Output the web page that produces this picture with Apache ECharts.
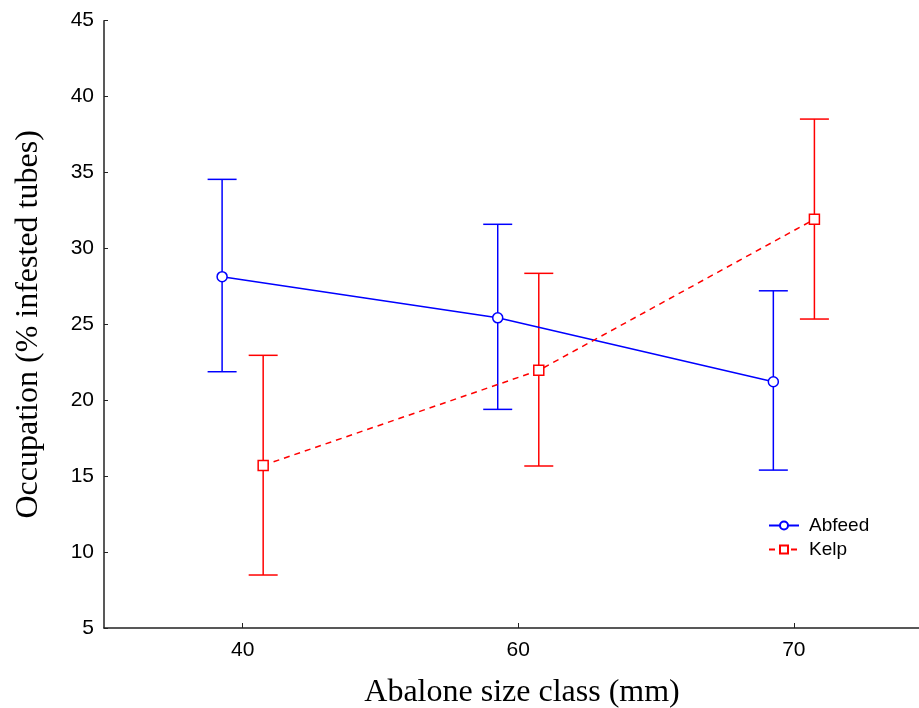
<!DOCTYPE html>
<html>
<head>
<meta charset="utf-8">
<script src="https://cdn.jsdelivr.net/npm/echarts@6/dist/echarts.min.js"></script>
<style>
  html, body { margin: 0; padding: 0; background: #fff; }
  #chart { width: 919px; height: 708px; }
</style>
</head>
<body>
<div id="chart"></div>
<script>
// Size classes (mm) on the x axis
const categories = ['40', '60', '70'];

// Abfeed diet: mean occupation with lower / upper error limits
const abfeedMean = [28.14, 25.43, 21.22];
const abfeedLow  = [21.88, 19.40, 15.40];
const abfeedHigh = [34.55, 31.59, 27.21];

// Kelp diet: mean occupation with lower / upper error limits
const kelpMean = [15.71, 21.97, 31.92];
const kelpLow  = [8.49, 15.67, 25.35];
const kelpHigh = [22.96, 28.36, 38.52];

// Y axis ticks
const yMin = 5, yMax = 45, yStep = 5;

// Horizontal nudge so the two groups sit either side of each class
const nudge = 0.0745;
const catIdx = categories.map((_, i) => i);

function pointData(means, shift) {
  return means.map((m, i) => [i + shift, m]);
}
function barData(lows, highs, shift) {
  return lows.map((lo, i) => [i + shift, lo, highs[i]]);
}

function errorBars(color) {
  return function (params, api) {
    const x = api.value(0);
    const lo = api.coord([x, api.value(1)]);
    const hi = api.coord([x, api.value(2)]);
    const half = 14.5;
    const style = { stroke: color, lineWidth: 1.5 };
    return {
      type: 'group',
      children: [
        { type: 'line', shape: { x1: lo[0], y1: lo[1], x2: hi[0], y2: hi[1] }, style: style },
        { type: 'line', shape: { x1: hi[0] - half, y1: hi[1], x2: hi[0] + half, y2: hi[1] }, style: style },
        { type: 'line', shape: { x1: lo[0] - half, y1: lo[1], x2: lo[0] + half, y2: lo[1] }, style: style }
      ]
    };
  };
}

const chart = echarts.init(document.getElementById('chart'), null, { renderer: 'canvas' });

const axisText = { fontFamily: 'Liberation Sans, Arial, sans-serif', fontSize: 21, color: '#000' };
const titleText = { fontFamily: 'Liberation Serif, Times New Roman, serif', fontSize: 32, color: '#000' };

chart.setOption({
  animation: false,
  backgroundColor: '#fff',
  grid: { left: 104, right: 0, top: 20.7, bottom: 80, containLabel: false, outerBoundsMode: 'none' },
  legend: {
    orient: 'vertical',
    left: 763,
    top: 511,
    itemWidth: 30,
    itemHeight: 10,
    itemGap: 5,
    textStyle: { fontFamily: 'Liberation Sans, Arial, sans-serif', fontSize: 19, color: '#000', padding: [0, 0, 0, 5] },
    data: ['Abfeed', 'Kelp']
  },
  xAxis: {
    type: 'value',
    min: -0.503,
    max: 2.454,
    name: 'Abalone size class (mm)',
    nameLocation: 'middle',
    nameGap: 49,
    nameTextStyle: { ...titleText, padding: [0, 0, 0, 21] },
    axisLine: { show: true, onZero: false, lineStyle: { color: '#222', width: 1.5 } },
    axisTick: { show: true, inside: true, length: 5, customValues: catIdx, lineStyle: { color: '#222' } },
    axisLabel: {
      customValues: catIdx,
      formatter: v => categories[Math.round(v)],
      margin: 12,
      ...axisText
    },
    splitLine: { show: false }
  },
  yAxis: {
    type: 'value',
    min: yMin,
    max: yMax,
    interval: yStep,
    name: 'Occupation (% infested tubes)',
    nameLocation: 'middle',
    nameGap: 59,
    nameTextStyle: titleText,
    axisLine: { show: true, onZero: false, lineStyle: { color: '#222', width: 1.5 } },
    axisTick: { show: true, inside: true, length: 4, lineStyle: { color: '#222' } },
    axisLabel: { margin: 10, ...axisText },
    splitLine: { show: false }
  },
  series: [
    {
      type: 'custom',
      name: 'Abfeed bars',
      renderItem: errorBars('#0000ff'),
      data: barData(abfeedLow, abfeedHigh, -nudge),
      z: 1,
      silent: true
    },
    {
      type: 'custom',
      name: 'Kelp bars',
      renderItem: errorBars('#ff0000'),
      data: barData(kelpLow, kelpHigh, nudge),
      z: 1,
      silent: true
    },
    {
      type: 'line',
      name: 'Abfeed',
      data: pointData(abfeedMean, -nudge),
      symbol: 'circle',
      symbolSize: 10,
      color: '#0000ff',
      lineStyle: { color: '#0000ff', width: 1.5, type: 'solid' },
      itemStyle: { color: '#fff', borderColor: '#0000ff', borderWidth: 1.5 },
      z: 3
    },
    {
      type: 'line',
      name: 'Kelp',
      data: pointData(kelpMean, nudge),
      symbol: 'rect',
      symbolSize: 10,
      color: '#ff0000',
      lineStyle: { color: '#ff0000', width: 1.5, type: [6, 5] },
      itemStyle: { color: '#fff', borderColor: '#ff0000', borderWidth: 1.5 },
      z: 3
    }
  ]
});
</script>
</body>
</html>
